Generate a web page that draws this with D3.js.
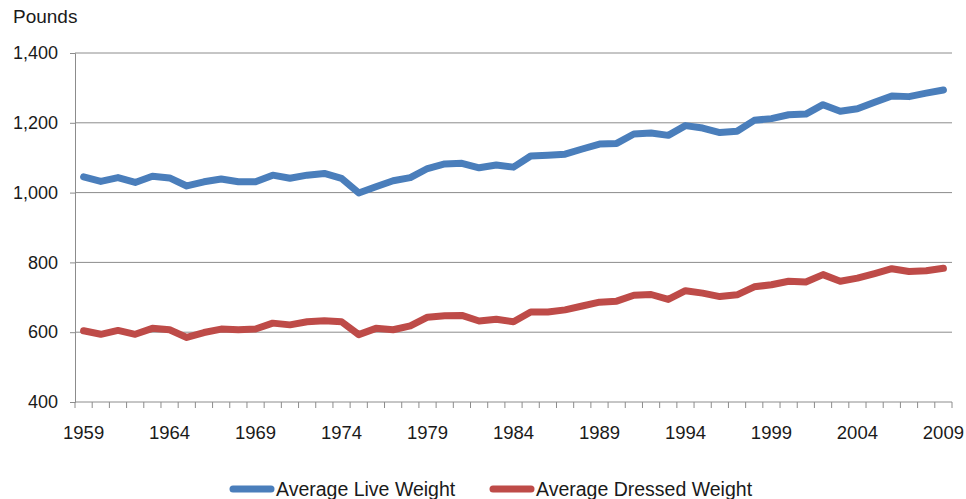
<!DOCTYPE html>
<html>
<head>
<meta charset="utf-8">
<script src="https://cdn.jsdelivr.net/npm/d3@7"></script>
<style>
  body { margin: 0; background: #fff; }
  text { font-family: "Liberation Sans", Arial, sans-serif; fill: #1a1a1a; }
</style>
</head>
<body>
<div id="chart"></div>
<script>
var years = d3.range(1959, 2010);
var liveWeight = [1045, 1032, 1043, 1029, 1047, 1042, 1019, 1031, 1039, 1031, 1031, 1050, 1041, 1050, 1055, 1041, 999,
  1017, 1034, 1043, 1069, 1082, 1084, 1071, 1079, 1073, 1105, 1107, 1110, 1125, 1139, 1141, 1168, 1171, 1164,
  1192, 1185, 1172, 1176, 1207, 1212, 1223, 1225, 1252, 1233, 1240, 1259, 1277, 1275, 1285, 1294];
var dressedWeight = [604, 594, 605, 594, 611, 607, 585, 599, 609, 607, 609, 626, 621, 630, 633, 630, 593,
  611, 607, 618, 643, 647, 648, 632, 637, 630, 658, 658, 664, 675, 686, 689, 706, 708, 694,
  719, 712, 702, 707, 730, 736, 746, 744, 765, 746, 755, 768, 782, 774, 776, 783];
var yTicks = [400, 600, 800, 1000, 1200, 1400];
var tickYears = [1959, 1964, 1969, 1974, 1979, 1984, 1989, 1994, 1999, 2004, 2009];
var seriesNames = ['Average Live Weight', 'Average Dressed Weight'];
var colors = ['#4a7ebb', '#be4b48'];

var width = 966, height = 499;
var plotLeft = 75, plotRight = 952, plotTop = 53, plotBottom = 402;

var svg = d3.select('#chart').append('svg')
  .attr('width', width)
  .attr('height', height);

// category axis, points sit in the middle of each band
var x = d3.scaleBand().domain(years).range([plotLeft, plotRight]);
var y = d3.scaleLinear().domain([400, 1400]).range([plotBottom, plotTop]);

// gridlines
svg.append('g').selectAll('line')
  .data(yTicks.slice(1))
  .enter().append('line')
  .attr('x1', plotLeft).attr('x2', plotRight)
  .attr('y1', function(d) { return y(d); })
  .attr('y2', function(d) { return y(d); })
  .attr('stroke', '#8c8c8c')
  .attr('stroke-width', 1);

// y axis
var yAxis = d3.axisLeft(y).tickValues(yTicks).tickSize(5).tickPadding(12)
  .tickFormat(d3.format(','));
var gy = svg.append('g').attr('transform', 'translate(' + plotLeft + ',0)').call(yAxis);
gy.select('.domain').attr('stroke', '#8c8c8c');
gy.selectAll('.tick line').attr('stroke', '#8c8c8c');
gy.selectAll('.tick text').attr('font-size', 18).attr('fill', '#1a1a1a')
  .attr('font-family', '"Liberation Sans", Arial, sans-serif');

// x axis: ticks at band edges, labels every 5 years
var gx = svg.append('g').attr('transform', 'translate(0,' + plotBottom + ')');
gx.append('line')
  .attr('x1', plotLeft).attr('x2', plotRight)
  .attr('stroke', '#8c8c8c');
gx.selectAll('.tk')
  .data(years.concat([2010]))
  .enter().append('line')
  .attr('class', 'tk')
  .attr('x1', function(d) { return d === 2010 ? plotRight : x(d); })
  .attr('x2', function(d) { return d === 2010 ? plotRight : x(d); })
  .attr('y1', 0).attr('y2', 6)
  .attr('stroke', '#8c8c8c');
gx.selectAll('.lbl')
  .data(tickYears)
  .enter().append('text')
  .attr('class', 'lbl')
  .attr('x', function(d) { return x(d) + x.bandwidth() / 2; })
  .attr('y', 37)
  .attr('text-anchor', 'middle')
  .attr('font-size', 18.5)
  .text(function(d) { return d; });

svg.append('text')
  .attr('x', 13).attr('y', 23)
  .attr('font-size', 19)
  .text('Pounds');

// lines
var line = d3.line()
  .x(function(d, i) { return x(years[i]) + x.bandwidth() / 2; })
  .y(function(d) { return y(d); });

[liveWeight, dressedWeight].forEach(function(s, i) {
  svg.append('path')
    .datum(s)
    .attr('d', line)
    .attr('fill', 'none')
    .attr('stroke', colors[i])
    .attr('stroke-width', 7)
    .attr('stroke-linejoin', 'round')
    .attr('stroke-linecap', 'round');
});

// legend
var legendX = [233, 493];
seriesNames.forEach(function(name, i) {
  var g = svg.append('g').attr('transform', 'translate(' + legendX[i] + ',489)');
  g.append('line')
    .attr('x1', 0).attr('x2', 38)
    .attr('stroke', colors[i])
    .attr('stroke-width', 7)
    .attr('stroke-linecap', 'round');
  g.append('text')
    .attr('x', 43).attr('y', 7)
    .attr('font-size', 19.5)
    .text(name);
});
</script>
</body>
</html>
